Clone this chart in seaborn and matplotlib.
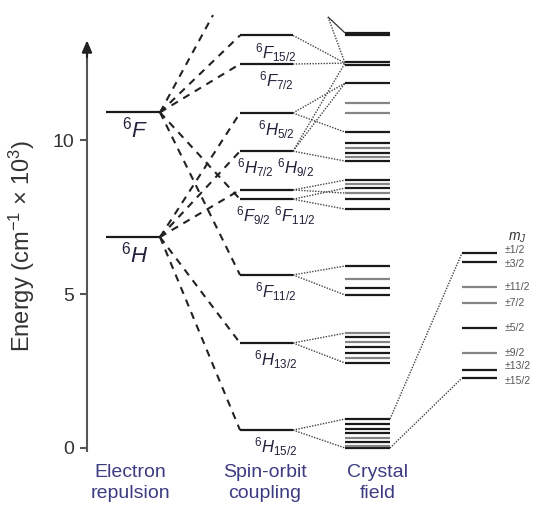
import seaborn as sns
from matplotlib import pyplot as plt
import numpy as np
import pandas as pd

# ---- data (energies in 10^3 cm^-1) ----
term_names = ['$^6F$', '$^6H$']
term_E = [10.9, 6.85]

so_names = ['$^6F_{15/2}$', '$^6F_{7/2}$', '$^6H_{5/2}$', '$^6H_{7/2}$ $^6H_{9/2}$',
            '', '$^6F_{9/2}$ $^6F_{11/2}$', '$^6F_{11/2}$', '$^6H_{13/2}$', '$^6H_{15/2}$']
so_E = [13.4, 12.47, 10.88, 9.64, 8.38, 8.08, 5.62, 3.41, 0.58]

# dashed links term -> spin-orbit level
dash_from = [10.9, 10.9, 10.9, 10.9, 6.85, 6.85, 6.85, 6.85, 6.85]
dash_to = [13.4, 12.47, 8.08, 5.62, 10.88, 9.64, 8.38, 3.41, 0.58]
# link leaving the chart towards higher 6F levels
dash_up_E = 14.06

cf_E = [13.48, 13.40, 12.54, 12.45, 11.85, 11.20, 10.88, 10.26,
        9.90, 9.74, 9.58, 9.45, 9.32,
        8.70, 8.57, 8.44, 8.28, 8.08, 7.76,
        5.91, 5.49, 5.19, 4.97,
        3.73, 3.60, 3.44, 3.28, 3.08, 2.92, 2.76,
        0.94, 0.78, 0.63, 0.48, 0.32, 0.18, 0.06, 0.0]
cf_gray = [0, 0, 0, 0, 0, 1, 1, 0,
           0, 1, 0, 1, 0,
           0, 1, 0, 1, 0, 0,
           0, 1, 0, 0,
           1, 0, 1, 0, 0, 1, 0,
           0, 0, 0, 0, 1, 0, 1, 0]

# dotted links spin-orbit level -> crystal-field level
dot_from = [13.4, 12.47, 10.88, 10.88, 9.64, 9.64, 9.64, 8.38, 8.38, 8.08, 8.08,
            5.62, 5.62, 3.41, 3.41, 0.58, 0.58]
dot_to = [12.5, 12.5, 11.85, 10.26, 12.5, 11.85, 9.32, 8.70, 8.28, 8.44, 7.76,
          5.91, 4.97, 3.73, 2.76, 0.94, 0.0]
spike_E = 14.0

mj_names = ['±1/2', '±3/2', '±11/2', '±7/2', '±5/2', '±9/2', '±13/2', '±15/2']
mj_E = [6.33, 6.04, 5.23, 4.71, 3.90, 3.08, 2.53, 2.27]
mj_gray = [0, 0, 1, 1, 0, 1, 0, 0]
zoom_from = [0.94, 0.0]
zoom_to = [6.33, 2.27]

# ---- layout ----
x_term = (106, 160)
x_so = (240, 293)
x_cf = (345, 390)
x_mj = (462, 497)
x_spike = 328
x_up = 213
mj_nudge = [0.1, -0.08, 0, 0, 0, 0, 0.12, -0.1]

rows = []
def seg(x0, x1, e0, e1, kind):
    n = len(rows)
    rows.append(dict(seg=n, x=x0, E=e0, kind=kind))
    rows.append(dict(seg=n, x=x1, E=e1, kind=kind))

for e in term_E:
    seg(*x_term, e, e, 'level')
for e in so_E:
    seg(*x_so, e, e, 'level')
for e, g in zip(cf_E, cf_gray):
    seg(*x_cf, e, e, 'gray' if g else 'level')
for e, g in zip(mj_E, mj_gray):
    seg(*x_mj, e, e, 'gray' if g else 'level')
for a, b in zip(dash_from, dash_to):
    seg(x_term[1], x_so[0], a, b, 'dash')
seg(x_term[1], x_up, term_E[0], dash_up_E, 'dash')
for a, b in zip(dot_from, dot_to):
    seg(x_so[1], x_cf[0], a, b, 'dot')
seg(x_spike, x_cf[0], spike_E, 12.5, 'dot')
seg(x_spike, x_cf[0], spike_E, 13.48, 'thin')
for a, b in zip(zoom_from, zoom_to):
    seg(x_cf[1], x_mj[0], a, b, 'dot')
df = pd.DataFrame(rows)

styles = {
    'level': dict(color='#1a1a1a', lw=1.6, linestyle='-'),
    'gray': dict(color='#858585', lw=1.6, linestyle='-'),
    'dash': dict(color='#222222', lw=1.5, linestyle=(0, (3.5, 3))),
    'dot': dict(color='#444444', lw=1.0, linestyle=(0, (1, 1))),
    'thin': dict(color='#333333', lw=0.9, linestyle='-'),
}

sns.set_style('ticks')
plt.rcParams['font.family'] = ['Liberation Sans', 'DejaVu Sans']
plt.rcParams['mathtext.fontset'] = 'custom'
plt.rcParams['mathtext.rm'] = 'Liberation Sans'
plt.rcParams['mathtext.it'] = 'Liberation Sans:italic'

fig = plt.figure(figsize=(5.38, 5.12), dpi=100)
ax = fig.add_axes([0, 0, 1, 1])

for kind, st in styles.items():
    sub = df[df.kind == kind]
    sns.lineplot(data=sub, x='x', y='E', units='seg', estimator=None, sort=False,
                 ax=ax, legend=False, solid_capstyle='butt', **st)

ax.set_xlim(0, 538)
ax.set_ylim(-2.08, 14.55)
ax.set_xticks([])
ax.set_xlabel('')
for s in ['top', 'right', 'bottom']:
    ax.spines[s].set_visible(False)
ax.spines['left'].set_position(('data', 87))
ax.spines['left'].set_bounds(-0.1, 12.9)
ax.spines['left'].set_color('#555555')
ax.spines['left'].set_linewidth(1.5)
ax.annotate('', xy=(87, 13.33), xytext=(87, 12.6),
            arrowprops=dict(arrowstyle='-|>,head_length=0.7,head_width=0.3',
                            color='#222222', lw=1.5))
ax.set_yticks([0, 5, 10])
ax.tick_params(axis='y', length=5, width=1.5, color='#555555', labelsize=14,
               labelcolor='#333333', pad=4)
ax.set_ylabel('Energy (cm$^{-1}$ × 10$^3$)', fontsize=17, color='#333333')
ax.yaxis.label.set_va('center')
ax.yaxis.set_label_coords(22 / 538, 0.52)

for name, e in zip(term_names, term_E):
    ax.text(135, e - 0.57, name, fontsize=16, ha='center', va='center', color='#22223a')
for name, e in zip(so_names, so_E):
    if name:
        ax.text(276, e - 0.55, name, fontsize=12, ha='center', va='center', color='#22223a')
for name, e, d in zip(mj_names, mj_E, mj_nudge):
    ax.text(505, e + d, name, fontsize=7.5, ha='left', va='center', color='#555555')
ax.text(508, 6.82, '$m_J$', fontsize=10, ha='left', va='center', color='#333333')

for x, lab in [(130, 'Electron\nrepulsion'), (265, 'Spin-orbit\ncoupling'), (378, 'Crystal\nfield')]:
    ax.text(x, -1.14, lab, fontsize=14, ha='center', va='center', color='#3c3c82',
            linespacing=1.25)

plt.savefig('out.png', dpi=100)
